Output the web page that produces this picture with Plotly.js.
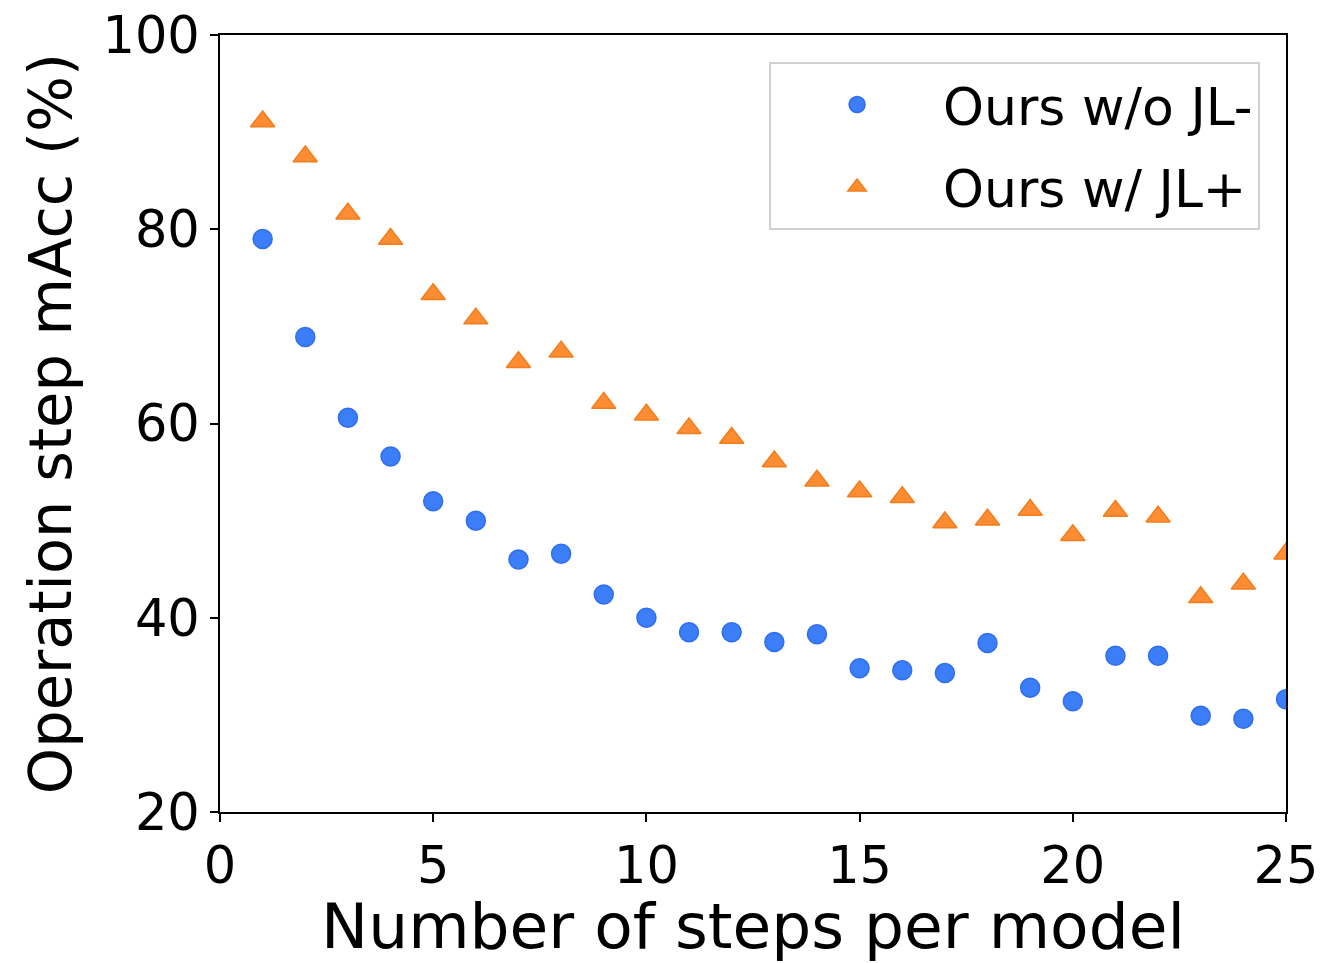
<!DOCTYPE html>
<html>
<head>
<meta charset="utf-8">
<script src="https://cdn.plot.ly/plotly-3.0.1.min.js"></script>
<style>html,body{margin:0;padding:0;background:#fff;}#chart{width:1330px;height:963px;}</style>
</head>
<body>
<div id="chart"></div>
<script>
const steps = [1,2,3,4,5,6,7,8,9,10,11,12,13,14,15,16,17,18,19,20,21,22,23,24,25];
const withoutJL = [79.0,68.9,60.6,56.6,52.0,50.0,46.0,46.6,42.4,40.0,38.5,38.5,37.5,38.3,34.8,34.6,34.3,37.4,32.8,31.4,36.1,36.1,29.9,29.6,31.6];
const withJL = [91.1,87.5,81.6,79.0,73.3,70.8,66.3,67.4,62.1,60.9,59.5,58.5,56.1,54.1,53.0,52.4,49.8,50.1,51.1,48.5,51.0,50.4,42.1,43.5,46.6];
const seriesNames = ["Ours w/o JL-", "Ours w/ JL+"];
const xTicks = [0,5,10,15,20,25];
const yTicks = [20,40,60,80,100];

const font = "DejaVu Sans, sans-serif";
const traces = [
  {x: steps, y: withoutJL, name: seriesNames[0], legendgroup: "a", type: "scatter", mode: "markers",
   marker: {symbol: "circle", size: 19, color: "#3c7df8", line: {color: "#2f6ef0", width: 1.5}}},
  {x: steps, y: withJL, name: seriesNames[1], legendgroup: "b", type: "scatter", mode: "markers",
   marker: {symbol: "triangle-up", size: 21, color: "#fd8c32", line: {color: "#f27d1c", width: 1.5}}}
];
const layout = {
  width: 1330, height: 963,
  margin: {l: 220, r: 42, t: 35, b: 151},
  paper_bgcolor: "#fff", plot_bgcolor: "#fff",
  font: {family: font, color: "#000", size: 51},
  showlegend: true,
  legend: {x: 0.9757, xanchor: "right", y: 0.965, yanchor: "top",
           bgcolor: "#fff", bordercolor: "#d0d0d0", borderwidth: 2,
           font: {family: font, size: 52, color: "#000"}, itemwidth: 162, tracegroupgap: 12},
  xaxis: {range: [0, 25], tickvals: xTicks, ticktext: xTicks.map(String), automargin: true,
          showgrid: false, zeroline: false, showline: true, mirror: true, linecolor: "#000", linewidth: 2,
          ticks: "outside", ticklen: 8, tickwidth: 2, tickcolor: "#000",
          tickfont: {family: font, size: 51, color: "#000"},
          title: {text: "Number of steps per model", font: {family: font, size: 63, color: "#000"}, standoff: 12}},
  yaxis: {range: [20, 100], tickvals: yTicks, ticktext: yTicks.map(String),
          showgrid: false, zeroline: false, showline: true, mirror: true, linecolor: "#000", linewidth: 2,
          ticks: "outside", ticklen: 8, tickwidth: 2, tickcolor: "#000",
          tickfont: {family: font, size: 51, color: "#000"},
          title: {text: "Operation step mAcc (%)", font: {family: font, size: 59, color: "#000"}, standoff: 12}}
};
Plotly.newPlot("chart", traces, layout, {displayModeBar: false, staticPlot: true});
</script>
</body>
</html>
